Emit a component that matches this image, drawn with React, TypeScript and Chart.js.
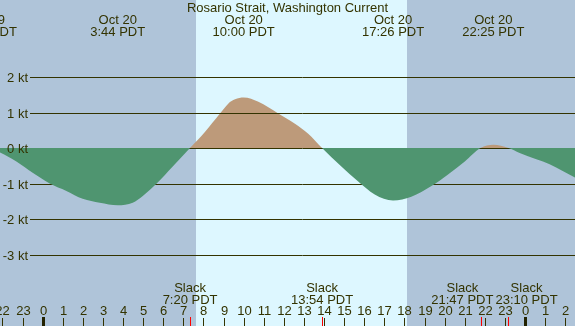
import React, { useEffect, useRef } from "react";
import { Chart, registerables } from "chart.js";

Chart.register(...registerables);

const TITLE = "Rosario Strait, Washington Current";

// hours relative to Oct 20 00:00 PDT, current in knots
const hours = [
  -2.6, -2.12, -1.31, -0.5, 0.35, 1.18, 1.99, 2.84, 3.73, 4.48, 4.98, 5.67, 6.47, 7.33,
  8.07, 8.82, 9.23, 9.57, 10.0, 10.73, 11.72, 12.55, 13.21, 13.9,
  14.86, 15.67, 16.52, 17.43, 18.34, 19.34, 20.15, 21.0, 21.78,
  22.42, 23.17, 23.73, 24.56, 25.22, 25.87, 26.48, 26.8,
];
const knots = [
  0.0, -0.13, -0.38, -0.7, -1.0, -1.21, -1.43, -1.54, -1.61, -1.54, -1.35, -1.0, -0.52, 0.0,
  0.45, 0.97, 1.25, 1.37, 1.42, 1.3, 0.97, 0.68, 0.4, 0.0,
  -0.52, -0.93, -1.31, -1.48, -1.37, -1.07, -0.75, -0.38, 0.0,
  0.09, 0.0, -0.14, -0.32, -0.46, -0.65, -0.83, -0.93,
];

const yTicks = [2, 1, 0, -1, -2, -3];
const yTickLabels = ["2 kt", "1 kt", "0 kt", "-1 kt", "-2 kt", "-3 kt"];

const maxHours = [-2.83, 3.733, 10.0, 17.433, 22.417];
const maxDates = ["Oct 19", "Oct 20", "Oct 20", "Oct 20", "Oct 20"];
const maxTimes = ["21:10 PDT", "3:44 PDT", "10:00 PDT", "17:26 PDT", "22:25 PDT"];

const slackHours = [7.333, 13.9, 21.783, 23.167];
const slackTimes = ["7:20 PDT", "13:54 PDT", "21:47 PDT", "23:10 PDT"];

const hourTicks = [-2, -1, 0, 1, 2, 3, 4, 5, 6, 7, 8, 9, 10, 11, 12, 13, 14, 15, 16, 17, 18, 19, 20, 21, 22, 23, 24, 25, 26];
const hourLabels = ["22", "23", "0", "1", "2", "3", "4", "5", "6", "7", "8", "9", "10", "11", "12", "13", "14", "15", "16", "17", "18", "19", "20", "21", "22", "23", "0", "1", "2"];
const midnightHours = [0, 24];

const sunrise = 7.65;
const sunset = 18.14;

const X_MIN = -2.124;
const X_MAX = 26.483;
const Y_MIN = -5.014;
const Y_MAX = 4.169;

const NIGHT = "#AFC4D9";
const DAY = "#DDF7FF";
const FLOOD = "#BD9A7A";
const EBB = "#4F9570";
const INK = "#333300";
const FONT = "13px 'Liberation Sans', Arial, sans-serif";

// spread overlapping centred labels apart
function spreadLabels(ctx: CanvasRenderingContext2D, centers: number[], texts: string[]) {
  const out = centers.slice();
  const gap = 2;
  for (let iter = 0; iter < 10; iter++) {
    let moved = false;
    for (let i = 0; i < out.length - 1; i++) {
      const wa = ctx.measureText(texts[i]).width;
      const wb = ctx.measureText(texts[i + 1]).width;
      const need = wa / 2 + wb / 2 + gap;
      const have = out[i + 1] - out[i];
      if (have < need) {
        const d = (need - have) / 2;
        out[i] -= d;
        out[i + 1] += d;
        moved = true;
      }
    }
    if (!moved) break;
  }
  return out;
}

const tidePlugin = {
  id: "tidePlugin",
  beforeDraw(chart: any) {
    const { ctx, width, height } = chart;
    const xs = chart.scales.x;
    ctx.save();
    ctx.fillStyle = NIGHT;
    ctx.fillRect(0, 0, width, height);
    const x0 = Math.round(xs.getPixelForValue(sunrise));
    const x1 = Math.round(xs.getPixelForValue(sunset));
    ctx.fillStyle = DAY;
    ctx.fillRect(x0, 0, x1 - x0, height);
    ctx.restore();
  },
  afterDatasetDraw(chart: any, args: any) {
    if (args.index !== 0) return;
    const { ctx, width } = chart;
    const ys = chart.scales.y;
    ctx.save();
    ctx.strokeStyle = INK;
    ctx.lineWidth = 1;
    yTicks.forEach((v) => {
      const y = Math.round(ys.getPixelForValue(v)) + 0.5;
      ctx.beginPath();
      ctx.moveTo(30, y);
      ctx.lineTo(width, y);
      ctx.stroke();
    });
    ctx.restore();
  },
  afterDraw(chart: any) {
    const { ctx, width } = chart;
    const xs = chart.scales.x;
    const ys = chart.scales.y;
    ctx.save();
    ctx.font = FONT;
    ctx.fillStyle = INK;

    // y labels
    ctx.textAlign = "right";
    ctx.textBaseline = "middle";
    yTicks.forEach((v, i) => {
      const y = Math.round(ys.getPixelForValue(v)) + 1;
      ctx.fillText(yTickLabels[i], 28, y);
    });

    // title and max labels
    ctx.textAlign = "center";
    ctx.textBaseline = "alphabetic";
    ctx.fillText(TITLE, width / 2, 12);
    maxHours.forEach((h, i) => {
      const x = xs.getPixelForValue(h);
      ctx.fillText(maxDates[i], x, 24);
      ctx.fillText(maxTimes[i], x, 36);
    });

    // slack labels
    const slackX = spreadLabels(
      ctx,
      slackHours.map((h) => xs.getPixelForValue(h)),
      slackTimes
    );
    slackX.forEach((x, i) => {
      ctx.fillText("Slack", x, 292);
      ctx.fillText(slackTimes[i], x, 304);
    });

    // hour labels and ticks
    hourTicks.forEach((h, i) => {
      const x = Math.round(xs.getPixelForValue(h));
      ctx.fillStyle = INK;
      ctx.fillText(hourLabels[i], x + 0.5, 315);
      ctx.fillRect(x, 318, 1, 8);
    });
    midnightHours.forEach((h) => {
      const x = Math.round(xs.getPixelForValue(h));
      ctx.fillStyle = "#222200";
      ctx.fillRect(x - 1, 317, 3, 9);
    });
    slackHours.forEach((h) => {
      const x = Math.round(xs.getPixelForValue(h));
      ctx.fillStyle = "#FF0000";
      ctx.fillRect(x, 317, 1, 9);
    });
    ctx.restore();
  },
};

export default function App() {
  const ref = useRef<HTMLCanvasElement>(null);
  useEffect(() => {
    document.body.style.margin = "0";
    const points = hours.map((h, i) => ({ x: h, y: knots[i] }));
    const chart = new Chart(ref.current as HTMLCanvasElement, {
      type: "line",
      data: {
        datasets: [
          {
            label: "flood",
            data: points,
            order: 2,
            borderWidth: 0,
            borderColor: "rgba(0,0,0,0)",
            pointRadius: 0,
            cubicInterpolationMode: "monotone",
            fill: { target: "origin", above: FLOOD, below: "rgba(0,0,0,0)" },
          },
          {
            label: "ebb",
            data: points,
            order: 1,
            borderWidth: 0,
            borderColor: "rgba(0,0,0,0)",
            pointRadius: 0,
            cubicInterpolationMode: "monotone",
            fill: { target: "origin", above: "rgba(0,0,0,0)", below: EBB },
          },
        ],
      },
      options: {
        animation: false,
        responsive: false,
        devicePixelRatio: 1,
        layout: { padding: 0 },
        plugins: { legend: { display: false }, tooltip: { enabled: false } },
        scales: {
          x: { type: "linear", display: false, min: X_MIN, max: X_MAX },
          y: { type: "linear", display: false, min: Y_MIN, max: Y_MAX },
        },
      },
      plugins: [tidePlugin],
    } as any);
    return () => chart.destroy();
  }, []);
  return (
    <div style={{ width: 575, height: 326 }}>
      <canvas ref={ref} width={575} height={326} style={{ display: "block" }} />
    </div>
  );
}
